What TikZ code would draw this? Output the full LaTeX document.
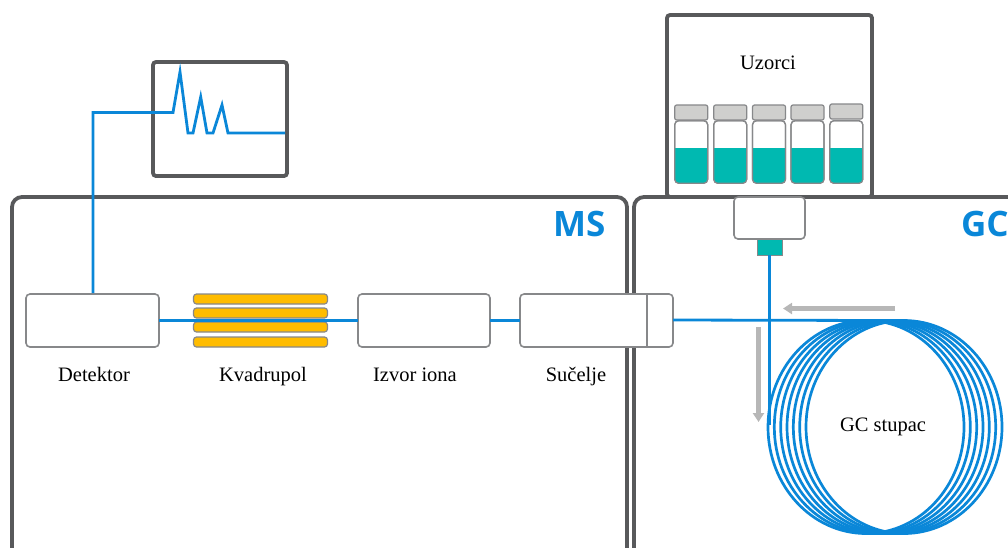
\documentclass[tikz,border=0pt]{standalone}
\usepackage{fontspec}
\setmainfont{Liberation Serif}
\newfontfamily\headfont{Open Sans}
\usetikzlibrary{arrows.meta}
\definecolor{frameC}{HTML}{58595B}
\definecolor{boxC}{HTML}{87888A}
\definecolor{flowC}{HTML}{0A87D8}
\definecolor{tealC}{HTML}{00B9B1}
\definecolor{capC}{HTML}{CFCFCD}
\definecolor{rodC}{HTML}{FFBC00}
\definecolor{arrowC}{HTML}{B7B7B7}
\tikzset{
  x=1pt,y=-1pt,
  every node/.style={inner sep=0pt,outer sep=0pt},
  frameline/.style={draw=frameC,line width=3.8pt},
  unitbox/.style={draw=boxC,line width=1.6pt,fill=white,rounded corners=4pt,minimum height=53pt},
  rod/.style={draw=boxC,line width=1.2pt,fill=rodC,rounded corners=3pt,minimum width=134pt,minimum height=10pt},
  flow/.style={draw=flowC,line width=2.8pt,line join=miter},
  coil/.style={draw=flowC,line width=2.7pt},
  vialcap/.style={draw=boxC,line width=1.2pt,fill=capC,rounded corners=2pt,minimum width=33pt,minimum height=15pt},
  vialbody/.style={draw=boxC,line width=1.2pt,fill=white,rounded corners=4pt,minimum width=33pt,minimum height=62.5pt},
  gray arrow/.style={draw=arrowC,line width=5pt,-{Triangle[length=9pt,width=11pt]}},
  label/.style={font=\fontsize{20.5}{23}\selectfont,text=black,anchor=base},
  head/.style={font=\headfont\bfseries\fontsize{35}{38}\selectfont,text=flowC},
}
\begin{document}
\begin{tikzpicture}
\useasboundingbox (0,0) rectangle (1008,547);
\begin{scope}
\clip (0,0) rectangle (1008,547);
% instrument frames
\draw[frameline,rounded corners=10pt] (12,570) -- (12,197) -- (627,197) -- (627,570);
\draw[frameline,rounded corners=10pt] (634,570) -- (634,197) -- (1030,197);

% column coil
\foreach \cx in {866,872.3,878.7,885,891.3,897.7,904}
  \draw[coil] (\cx,427) ellipse [x radius=98,y radius=106.5];

% monitor
\node[draw=frameC,line width=3.8pt,rounded corners=3pt,fill=white,minimum width=134pt,minimum height=114pt] (monitor) at (220,119) {};
\coordinate (traceend) at (285,133);

% sampler
\node[draw=frameC,line width=3.8pt,rounded corners=3pt,fill=white,minimum width=205pt,minimum height=182pt] (sampler) at (769.5,106) {};
\node[label] (uzorci) at (768,69) {Uzorci};

% vials
\foreach \n/\cx/\cy in {a/691.2/112.5,b/730.2/112.5,c/769/112.5,d/807.5/112.5,e/846.3/111.5}{
  \node[vialbody] (body\n) at (\cx,152) {};
  \begin{scope}
    \clip[rounded corners=4pt] (\cx-16.5,120.7) rectangle (\cx+16.5,183.3);
    \fill[tealC] (\cx-17,148) rectangle (\cx+17,184);
  \end{scope}
  \draw[draw=boxC,line width=1.2pt,rounded corners=4pt] (\cx-16.5,120.7) rectangle (\cx+16.5,183.3);
  \node[vialcap] (cap\n) at (\cx,\cy) {};
}

% injector
\node[draw=boxC,line width=1.6pt,fill=white,rounded corners=4pt,minimum width=71pt,minimum height=42pt] (injector) at (769.5,218) {};
\node[draw=boxC,line width=1pt,fill=tealC,minimum width=25pt,minimum height=16pt,anchor=north] (needle) at (769.5,239) {};

% units
\node[unitbox,minimum width=133pt] (det) at (92.5,320.5) {};
\node[unitbox,minimum width=132pt] (ion) at (424,320.5) {};
\node[unitbox,minimum width=153pt] (iface) at (596.5,320.5) {};
\coordinate (ifaceR) at (673,320);
\draw[draw=boxC,line width=1.4pt] (647,294) -- (647,347);

% quadrupole rods
\node[rod] (rod1) at (260.5,299) {};
\node[rod] (rod2) at (260.5,313) {};
\node[rod] (rod3) at (260.5,327) {};
\node[rod] (rod4) at (260.5,342) {};

% flow lines
\coordinate (coilTop) at (884,320.5);
\coordinate (coilLeft) at (768.5,425);
\draw[flow] (ifaceR) -- (coilTop);
\draw[flow] (needle.south) -- (needle.south |- coilLeft);
\draw[flow] (iface.west) -- (ion.east);
\draw[flow] (ion.west) -- (det.east);
\coordinate (detTop) at (93,293);
\draw[flow] (detTop) -- (93,112.5) -- (173,112.5) -- (180,72) -- (188,133) -- (193,133) -- (200.7,97) -- (207,133) -- (213,133) -- (222,105) -- (228,133) -- (traceend);

% flow direction
\coordinate (a1) at (895,308.5);
\coordinate (a2) at (783,308.5);
\coordinate (b1) at (758.5,327);
\coordinate (b2) at (758.5,422);
\draw[gray arrow] (a1) -- (a2);
\draw[gray arrow] (b1) -- (b2);

% labels
\node[label] (detl) at (94,381) {Detektor};
\node[label] (kvad) at (263,381) {Kvadrupol};
\node[label] (ionl) at (415,381) {Izvor iona};
\node[label] (sucl) at (576,381) {Sučelje};
\node[label] (gcst) at (883,431.7) {GC stupac};
\node[head,anchor=base west] (ms) at (553,236) {MS};
\node[head,anchor=base west] (gc) at (961,236) {GC};
\end{scope}
\end{tikzpicture}
\end{document}
